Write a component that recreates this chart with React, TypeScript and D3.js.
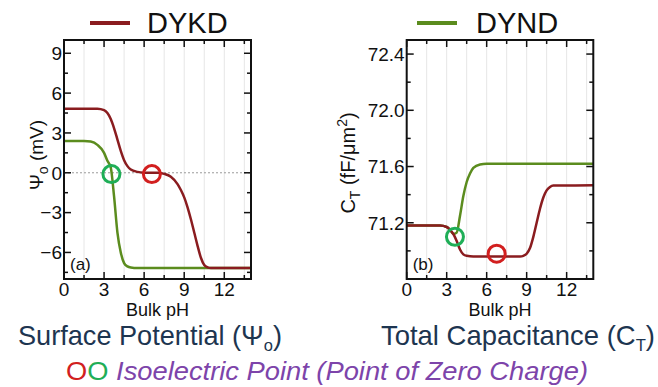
import React from 'react';
import * as d3 from 'd3';

// ---- data ----
const phKdA = [0, 2.5, 3, 3.25, 3.5, 3.75, 4, 4.25, 4.5, 4.75, 5, 5.5, 6, 6.5, 7, 7.5, 8, 8.5, 8.75, 9, 9.25, 9.5, 9.75, 10, 10.25, 10.5, 10.75, 11, 14];
const psiKd = [4.83, 4.83, 4.72, 4.5, 4.05, 3.35, 2.5, 1.65, 0.95, 0.5, 0.25, 0.07, 0.01, 0, 0, -0.08, -0.3, -0.85, -1.3, -1.85, -2.6, -3.5, -4.5, -5.5, -6.4, -6.95, -7.12, -7.17, -7.17];
const phNdA = [0, 1.5, 2, 2.5, 3, 3.25, 3.5, 3.75, 4, 4.25, 4.5, 4.75, 5, 5.5, 14];
const psiNd = [2.4, 2.4, 2.35, 2.1, 1.5, 0.9, 0.4, -1.8, -4.5, -6.0, -6.8, -7.05, -7.13, -7.17, -7.17];

const phKdB = [0, 2.5, 3, 3.25, 3.5, 3.75, 4, 4.25, 4.5, 5, 8.5, 8.75, 9, 9.25, 9.5, 9.75, 10, 10.25, 10.5, 10.75, 11, 14];
const ctKd = [71.18, 71.18, 71.17, 71.15, 71.12, 71.07, 71.01, 70.975, 70.965, 70.96, 70.96, 70.965, 70.98, 71.02, 71.1, 71.2, 71.3, 71.38, 71.43, 71.455, 71.465, 71.466];
const phNdB = [0, 2.5, 3, 3.25, 3.5, 3.75, 4, 4.25, 4.5, 4.75, 5, 5.5, 6, 14];
const ctNd = [71.18, 71.18, 71.17, 71.15, 71.12, 71.13, 71.25, 71.39, 71.49, 71.55, 71.59, 71.615, 71.62, 71.62];

// isoelectric points [pH, value]
const iepA = { kd: [6.58, -0.1], nd: [3.55, -0.1] };
const iepB = { kd: [6.75, 70.98], nd: [3.62, 71.1] };

const xTicks = [0, 3, 6, 9, 12];
const xMinor = [1.5, 4.5, 7.5, 10.5, 13.5];
const gridPh = [1.5, 3, 4.5, 6, 7.5, 9, 10.5, 12, 13.5];
const yTicksA = [-6, -3, 0, 3, 6, 9];
const yMinorA = [-7.5, -4.5, -1.5, 1.5, 4.5, 7.5];
const yTicksB = [71.2, 71.6, 72.0, 72.4];
const yMinorB = [71.0, 71.4, 71.8, 72.2];

const KD = '#8a1c1f';
const ND = '#5b8c1e';
const RING_RED = '#d21f1f';
const RING_GREEN = '#1fae57';
const FONT = 'Liberation Sans, Arial, sans-serif';

interface PanelProps {
  x0: number;
  x1: number;
  yDomain: [number, number];
  yTicks: number[];
  yMinor: number[];
  fmt: (v: number) => string;
  kd: [number[], number[]];
  nd: [number[], number[]];
  iep: { kd: number[]; nd: number[] };
  tag: string;
  zeroLine?: boolean;
}

function Panel({ x0, x1, yDomain, yTicks, yMinor, fmt, kd, nd, iep, tag, zeroLine }: PanelProps) {
  const top = 40, bottom = 279;
  const x = d3.scaleLinear().domain([0, 14]).range([x0, x1]);
  const y = d3.scaleLinear().domain(yDomain).range([bottom, top]);
  const line = d3.line<[number, number]>()
    .x(d => x(d[0]))
    .y(d => y(d[1]))
    .curve(d3.curveMonotoneX);
  const pts = (s: [number[], number[]]) => s[0].map((p, i) => [p, s[1][i]] as [number, number]);

  return (
    <g>
      {gridPh.map(p => (
        <line key={'g' + p} x1={x(p)} x2={x(p)} y1={top} y2={bottom} stroke="#e6e6e6" strokeWidth={1} />
      ))}
      {zeroLine && (
        <line x1={x0} x2={x1} y1={y(0)} y2={y(0)} stroke="#9a9a9a" strokeWidth={1} strokeDasharray="2,2" />
      )}
      <path d={line(pts(nd)) || ''} fill="none" stroke={ND} strokeWidth={2.5} />
      <path d={line(pts(kd)) || ''} fill="none" stroke={KD} strokeWidth={2.5} />
      <circle cx={x(iep.nd[0])} cy={y(iep.nd[1])} r={8.5} fill="none" stroke={RING_GREEN} strokeWidth={3} />
      <circle cx={x(iep.kd[0])} cy={y(iep.kd[1])} r={8.5} fill="none" stroke={RING_RED} strokeWidth={3} />

      {/* ticks on all four sides, pointing inwards */}
      {xTicks.map(t => (
        <g key={'xt' + t}>
          <line x1={x(t)} x2={x(t)} y1={bottom} y2={bottom - 7} stroke="#111" strokeWidth={1.5} />
          <line x1={x(t)} x2={x(t)} y1={top} y2={top + 7} stroke="#111" strokeWidth={1.5} />
          <text x={x(t)} y={296} textAnchor="middle" fontSize={19} fontFamily={FONT} fill="#111">{t}</text>
        </g>
      ))}
      {xMinor.map(t => (
        <g key={'xm' + t}>
          <line x1={x(t)} x2={x(t)} y1={bottom} y2={bottom - 4} stroke="#111" strokeWidth={1.5} />
          <line x1={x(t)} x2={x(t)} y1={top} y2={top + 4} stroke="#111" strokeWidth={1.5} />
        </g>
      ))}
      {yTicks.map(t => (
        <g key={'yt' + t}>
          <line x1={x0} x2={x0 + 7} y1={y(t)} y2={y(t)} stroke="#111" strokeWidth={1.5} />
          <line x1={x1} x2={x1 - 7} y1={y(t)} y2={y(t)} stroke="#111" strokeWidth={1.5} />
          <text x={x0 - 2} y={y(t)} dy="0.36em" textAnchor="end" fontSize={19} fontFamily={FONT} fill="#111">{fmt(t)}</text>
        </g>
      ))}
      {yMinor.map(t => (
        <g key={'ym' + t}>
          <line x1={x0} x2={x0 + 4} y1={y(t)} y2={y(t)} stroke="#111" strokeWidth={1.5} />
          <line x1={x1} x2={x1 - 4} y1={y(t)} y2={y(t)} stroke="#111" strokeWidth={1.5} />
        </g>
      ))}
      <rect x={x0} y={top} width={x1 - x0} height={bottom - top} fill="none" stroke="#111" strokeWidth={2} />
      <text x={x0 + 6} y={270} fontSize={17} fontFamily={FONT} fill="#111">{tag}</text>
      <text x={(x0 + x1) / 2} y={316} textAnchor="middle" fontSize={18} fontFamily={FONT} fill="#111">Bulk pH</text>
    </g>
  );
}

export default function App() {
  return (
    <div style={{ position: 'fixed', left: 0, top: 0, width: 658, height: 387, background: '#fff' }}>
      <svg width={658} height={387} style={{ display: 'block' }}>
        <rect width={658} height={387} fill="#fff" />

        {/* legends */}
        <line x1={90} x2={130} y1={23} y2={23} stroke={KD} strokeWidth={4} />
        <text x={147} y={33} fontSize={29} fontFamily={FONT} fill="#111">DYKD</text>
        <line x1={417} x2={457} y1={23} y2={23} stroke={ND} strokeWidth={4} />
        <text x={476} y={33} fontSize={29} fontFamily={FONT} fill="#111">DYND</text>

        <Panel
          x0={64} x1={251}
          yDomain={[-8, 10]}
          yTicks={yTicksA} yMinor={yMinorA}
          fmt={d3.format('d')}
          kd={[phKdA, psiKd]} nd={[phNdA, psiNd]}
          iep={iepA} tag="(a)" zeroLine
        />
        <Panel
          x0={406.7} x1={593.3}
          yDomain={[70.8, 72.5]}
          yTicks={yTicksB} yMinor={yMinorB}
          fmt={d3.format('.1f')}
          kd={[phKdB, ctKd]} nd={[phNdB, ctNd]}
          iep={iepB} tag="(b)"
        />

        {/* y axis titles */}
        <text transform="translate(43,155) rotate(-90)" textAnchor="middle" fontSize={19} fontFamily={FONT} fill="#111">
          Ψ<tspan fontSize={14} dy={5}>o</tspan><tspan dy={-5}> (mV)</tspan>
        </text>
        <text transform="translate(355,163) rotate(-90)" textAnchor="middle" fontSize={20} fontFamily={FONT} fill="#111">
          C<tspan fontSize={14} dy={5}>T</tspan><tspan dy={-5}> (fF/μm</tspan><tspan fontSize={14} dy={-8}>2</tspan><tspan dy={8}>)</tspan>
        </text>

        {/* captions */}
        <text x={18} y={345} fontSize={28} fontFamily={FONT} fill="#1d3550" textLength={264} lengthAdjust="spacingAndGlyphs">
          Surface Potential (Ψ<tspan fontSize={17} dy={6}>o</tspan><tspan dy={-6}>)</tspan>
        </text>
        <text x={381} y={345} fontSize={28} fontFamily={FONT} fill="#1d3550" textLength={274} lengthAdjust="spacingAndGlyphs">
          Total Capacitance (C<tspan fontSize={17} dy={6}>T</tspan><tspan dy={-6}>)</tspan>
        </text>
        <text x={66} y={380} fontSize={26} fontFamily={FONT} textLength={522} lengthAdjust="spacingAndGlyphs">
          <tspan fill={RING_RED}>O</tspan><tspan fill={RING_GREEN}>O</tspan>
          <tspan fill="#7d44aa" fontStyle="italic"> Isoelectric Point (Point of Zero Charge)</tspan>
        </text>
      </svg>
    </div>
  );
}
